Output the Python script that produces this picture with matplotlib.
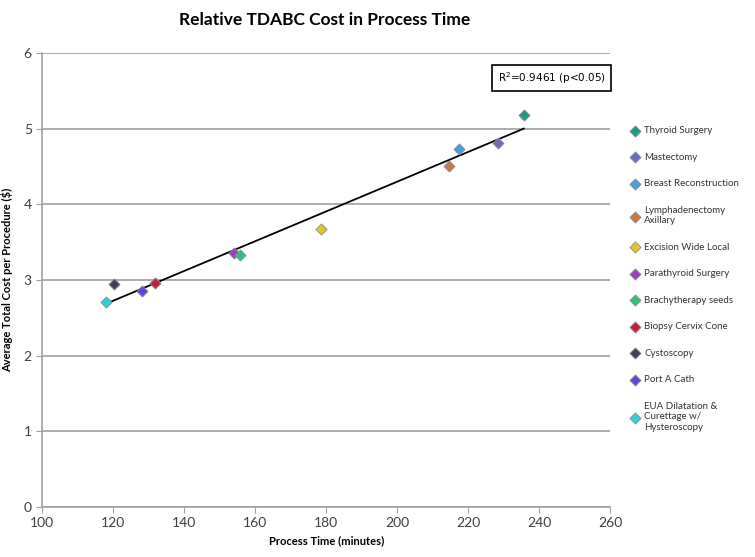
import numpy as np
import matplotlib
matplotlib.use('Agg')
import matplotlib.pyplot as plt

plt.rcParams['font.family'] = ['Lato', 'DejaVu Sans']

procedures = ['Thyroid Surgery', 'Mastectomy', 'Breast Reconstruction',
              'Lymphadenectomy\nAxillary', 'Excision Wide Local', 'Parathyroid Surgery',
              'Brachytherapy seeds', 'Biopsy Cervix Cone', 'Cystoscopy', 'Port A Cath',
              'EUA Dilatation &\nCurettage w/\nHysteroscopy']
process_time = [235.7, 228.4, 217.5, 214.6, 178.5, 154.1, 155.8, 131.8, 120.3, 128.1, 118.0]
avg_cost = [5.18, 4.81, 4.73, 4.51, 3.67, 3.35, 3.33, 2.96, 2.94, 2.85, 2.71]
colors = ['#1b9a7c', '#6a6cb8', '#4a9fd8', '#c8784a', '#e2c42c', '#a03cc0',
          '#2ec27a', '#c0203e', '#3c4450', '#6242e0', '#2ed2d4']

fig = plt.figure(figsize=(7.55, 5.57), dpi=100)
ax = fig.add_axes([0.056, 0.09, 0.752, 0.815])

for name, x, y, c in zip(procedures, process_time, avg_cost, colors):
    ax.scatter(x, y, marker='D', s=32, color=c, edgecolors='#8a8a9a', linewidths=0.6,
               label=name, zorder=3)

# linear trend line
slope, icpt = np.polyfit(process_time, avg_cost, 1)
xs = np.array([min(process_time), max(process_time)])
ax.plot(xs, slope * xs + icpt, color='black', lw=1.3, zorder=2)

ax.text(0.897, 0.944, 'R$^2$=0.9461 (p<0.05)', transform=ax.transAxes, fontsize=7.5,
        ha='center', va='center', family='DejaVu Sans',
        bbox=dict(boxstyle='square,pad=0.5', fc='white', ec='black', lw=1.2))

ax.set_xlim(100, 260)
ax.set_ylim(0, 6)
ax.set_xticks(range(100, 261, 20))
ax.set_yticks(range(0, 7))
ax.grid(axis='y', color='#a0a0a0', lw=1.2)
ax.set_axisbelow(True)
for s in ['top', 'right']:
    ax.spines[s].set_visible(False)
for s in ['left', 'bottom']:
    ax.spines[s].set_color('#a0a0a0')
    ax.spines[s].set_linewidth(1.2)
ax.tick_params(colors='#a0a0a0', labelcolor='#404040', labelsize=10, length=4)

ax.set_xlabel('Process Time (minutes)', fontsize=8, fontweight='bold', labelpad=4)
ax.set_ylabel('Average Total Cost per Procedure ($)', fontsize=8, fontweight='bold', labelpad=8)
fig.suptitle('Relative TDABC Cost in Process Time', x=0.43, y=0.978, fontsize=12.5,
             fontweight='bold')

fig.legend(loc='upper left', bbox_to_anchor=(0.83, 0.78), frameon=False, fontsize=7,
           labelspacing=1.8, handletextpad=0.4, handlelength=1.0, borderaxespad=0,
           labelcolor='#333333')

fig.savefig('out.png', dpi=100)
